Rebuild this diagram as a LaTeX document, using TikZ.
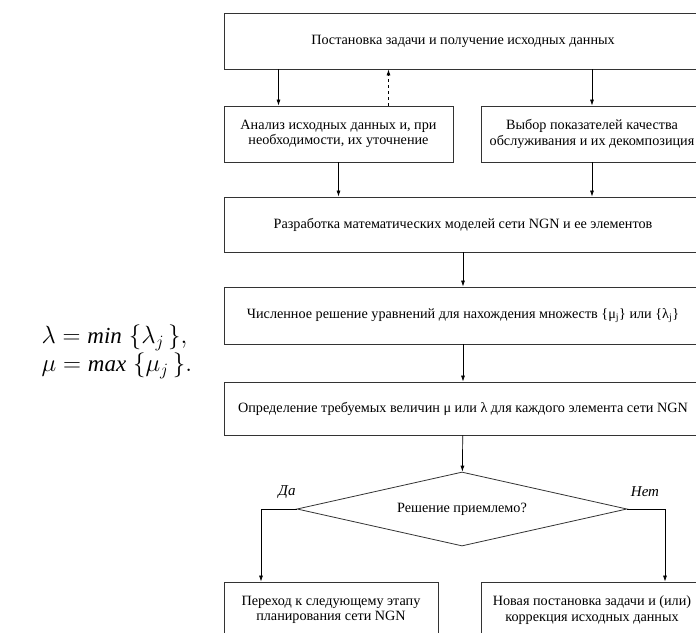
\documentclass[tikz,border=0pt]{standalone}
\usepackage{fontspec}
\setmainfont{Liberation Serif}
\usetikzlibrary{arrows.meta, shapes.geometric, positioning, calc}
\newcommand{\branchD}[3]
{
	\draw[arr] (#2.#1) -| (#3)
}

\begin{document}
\begin{tikzpicture}[x=1pt, y=-1pt,
			every node/.style={font=\fontsize{14.2}{15.5}\selectfont},
			box/.style={shape=rectangle,
				draw=black!80, line width=0.8pt,
				align=center, inner sep=0,
				minimum height=56pt},
			wide/.style={box, minimum width=478pt},
			half/.style={box, minimum width=222pt},
			check/.style={shape=diamond, draw=black!80, line width=0.8pt,
				inner sep=0, shape aspect=4.46, minimum width=330pt, minimum height=74pt},
			arr/.style={-{Latex[length=6pt,width=4pt]}, line width=0.7pt},
			answer/.style={font=\fontsize{15}{17}\selectfont\itshape}]

			\useasboundingbox (0,0) rectangle (696,632);
			\clip (0,0) rectangle (696,632);

			\node[wide] at (463, 41) (Task){Постановка задачи и получение исходных данных};
			\node[box, minimum width=229pt] at (338.5, 134) (Analysis){Анализ исходных данных и, при\\необходимости, их уточнение};
			\node[half] at (592, 134) (Choice){Выбор показателей качества\\обслуживания и их декомпозиция};
			\node[wide, minimum height=55pt] at (463, 224.5) (Models){Разработка математических моделей сети NGN и ее элементов};
			\node[wide, minimum height=57pt] at (463, 315.5) (Solve){Численное решение уравнений для нахождения множеств \{μ\textsubscript{j}\} или \{λ\textsubscript{j}\}};
			\node[wide, minimum height=53pt] at (463, 408.5) (Define){Определение требуемых величин μ или λ для каждого элемента сети NGN};
			\node[check] at (462, 509) (Decision){Решение приемлемо?};
			\node[box, minimum width=214pt] at (331, 610) (Next){Переход к следующему этапу\\планирования сети NGN};
			\node[half] at (592, 610) (Revise){Новая постановка задачи и (или)\\коррекция исходных данных};

			\node[answer] at (287, 492) (Yes){Да};
			\node[answer] at (645, 492) (No){Нет};

			\node[anchor=west, align=left, font=\fontsize{23}{28}\selectfont] at (38, 352) (Bounds)
				{$\lambda = \mathit{min}\;\{\lambda_j\,\},$\\$\mu = \mathit{max}\;\{\mu_j\,\}.$};

			\coordinate (a1) at ([xshift=-60pt]Analysis.north);
			\coordinate (a2) at ([xshift=50pt]Analysis.north);
			\coordinate (n1) at ([xshift=-70pt]Next.north);
			\coordinate (r1) at ([xshift=73pt]Revise.north);

			\draw[arr] (a1 |- Task.south) -- (a1);
			\draw[arr, dashed] (a2) -- (a2 |- Task.south);
			\draw[arr] (Choice.north |- Task.south) -- (Choice.north);
			\draw[arr] (Analysis.south) -- (Analysis.south |- Models.north);
			\draw[arr] (Choice.south) -- (Choice.south |- Models.north);
			\draw[arr] (Models) -- (Solve);
			\draw[arr] (Solve) -- (Define);
			\draw[arr] (Define) -- (Decision);
			\branchD{west}{Decision}{n1};
			\branchD{east}{Decision}{r1};
		\end{tikzpicture}
\end{document}
